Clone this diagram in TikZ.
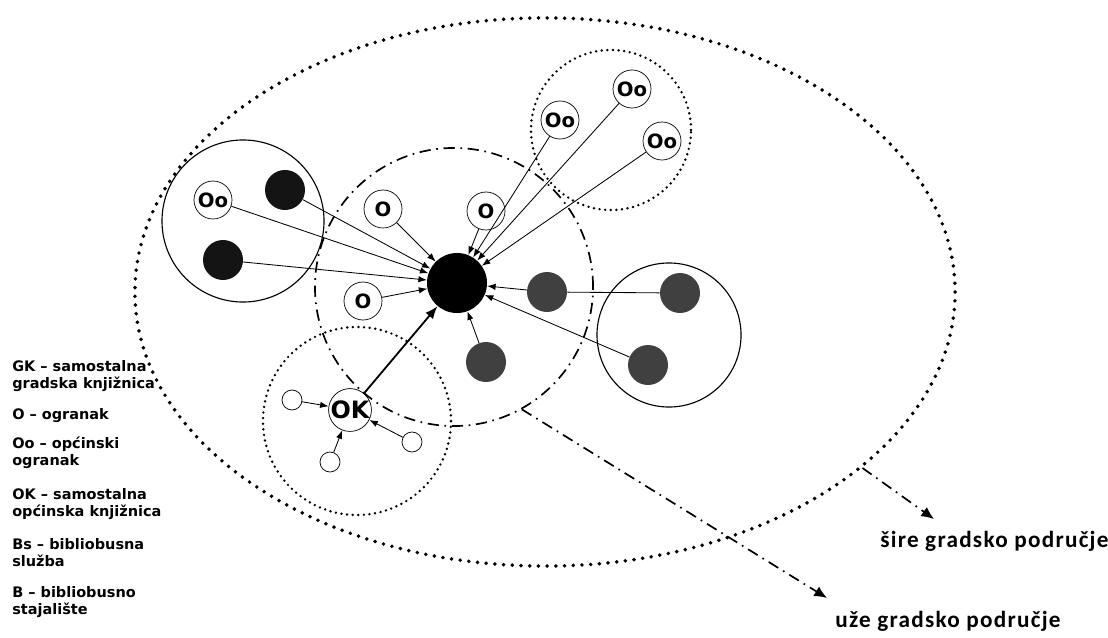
\documentclass[tikz,border=0pt]{standalone}
\usepackage{fontspec}
\setmainfont{DejaVu Sans}
\newfontfamily\areafont{Carlito}[LetterSpace=5.5]
\usetikzlibrary{arrows.meta,shapes.geometric}

\begin{document}
\begin{tikzpicture}[x=0.025cm, y=-0.025cm, >={Latex[length=6pt,width=4.5pt]}]

% styles
\tikzset{
  region/.style={circle, draw, inner sep=0pt},
  outer/.style={ellipse, draw, inner sep=0pt, line width=2.8pt, dash pattern=on 0pt off 6.2pt, line cap=round},
  finedots/.style={line width=1.9pt, dash pattern=on 0pt off 4pt, line cap=round},
  dashdot/.style={line width=1.2pt, dash pattern=on 8pt off 4pt on 1.2pt off 4pt},
  lib/.style={circle, draw, line width=0.5pt, inner sep=0pt, minimum size=0.95cm, font=\bfseries\fontsize{14}{14}\selectfont},
  bus/.style={circle, fill=black!92, inner sep=0pt, minimum size=1cm},
  busg/.style={bus, fill=black!75},
  halt/.style={circle, draw, line width=0.5pt, inner sep=0pt, minimum size=0.5cm},
  link/.style={->, line width=0.6pt},
  legend/.style={anchor=base west, align=left, inner sep=0pt, font=\bfseries\fontsize{10.3}{12}\selectfont},
  area/.style={anchor=base west, inner sep=0pt, font=\areafont\bfseries\fontsize{16.5}{16.5}\selectfont},
}

\useasboundingbox (0,0) rectangle (1108,637);

% wider and inner city area
\node[outer, minimum width=20.5cm, minimum height=13.7cm] (sire) at (545,292) {};
\node[region, dashdot, minimum size=6.95cm] (uze) at (454,287) {};

% groups
\node[region, line width=0.8pt, minimum size=4.05cm] (grpL) at (243,221) {};
\node[region, finedots, minimum size=4cm] (grpT) at (611,130) {};
\node[region, line width=0.8pt, minimum size=3.6cm] (grpR) at (669,335) {};
\node[region, finedots, minimum size=4.7cm] (grpOK) at (357,421) {};

% central library
\node[circle, fill=black, inner sep=0pt, minimum size=1.5cm] (GK) at (457,283) {};

% branches
\node[lib] (O1) at (383,209) {O};
\node[lib] (O2) at (486,211) {O};
\node[lib] (O3) at (363,301) {O};

% municipal branches
\node[lib] (OoL) at (213,200) {Oo};
\node[lib] (OoT1) at (560,120) {Oo};
\node[lib] (OoT2) at (632,89) {Oo};
\node[lib] (OoT3) at (662,141) {Oo};

% bookmobile
\node[bus] (BL1) at (285,190) {};
\node[bus] (BL2) at (223,260) {};
\node[busg] (BM) at (547,292) {};
\node[busg] (BD) at (486,362) {};
\node[busg] (BR1) at (680,293) {};
\node[busg] (BR2) at (648,365) {};

% municipal library
\node[lib, minimum size=0.9cm, font=\bfseries\fontsize{17}{17}\selectfont] (OK) at (350,410) {OK};
\node[halt] (h1) at (292,400) {};
\node[halt] (h2) at (330,462) {};
\node[halt] (h3) at (412,442) {};

% links
\draw[link] (OoL) -- (GK);
\draw[link] (BL1) -- (GK);
\draw[link] (BL2) -- (GK);
\draw[link] (O1) -- (GK);
\draw[link] (O2) -- (GK);
\draw[link] (O3) -- (GK);
\draw[link] (OoT1) -- (GK);
\draw[link] (OoT2) -- (GK);
\draw[link] (OoT3) -- (GK);
\draw[line width=0.6pt] (BR1) -- (BM);
\draw[link] (BM) -- (GK);
\draw[link] (BR2) -- (GK);
\draw[link] (BD) -- (GK);
\draw[->, line width=1.3pt, >={Latex[length=9pt,width=7pt]}] (OK) -- (GK);
\draw[link] (h1) -- (OK);
\draw[link] (h2) -- (OK);
\draw[link] (h3) -- (OK);

% areas
\coordinate (uzeEnd) at (827,598);
\coordinate (sireEnd) at (934,519);
\draw[dashdot, ->, >={Latex[length=9pt,width=8pt]}] (uze.-61) -- (uzeEnd);
\draw[dashdot, ->, >={Latex[length=9pt,width=8pt]}] (sire.-29) -- (sireEnd);
\node[area] (lblSire) at (880,547) {šire gradsko područje};
\node[area] (lblUze) at (835,627) {uže gradsko područje};

% legend
\node[legend] (legGK) at (12,388) {GK – samostalna\\gradska knjižnica};
\node[legend] (legO) at (12,419) {O – ogranak};
\node[legend] (legOo) at (12,465) {Oo – općinski\\ogranak};
\node[legend] (legOK) at (12,516) {OK – samostalna\\općinska knjižnica};
\node[legend] (legBs) at (12,566) {Bs – bibliobusna\\služba};
\node[legend] (legB) at (12,614) {B – bibliobusno\\stajalište};

\end{tikzpicture}
\end{document}
